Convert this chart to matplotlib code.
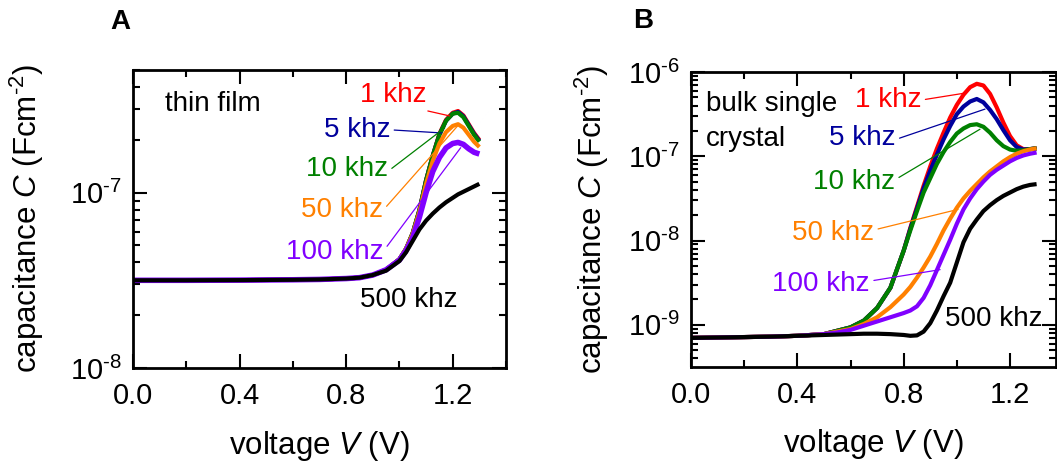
import numpy as np
import matplotlib
matplotlib.use("Agg")
import matplotlib.pyplot as plt
from matplotlib.ticker import LogLocator, MultipleLocator, NullFormatter, FuncFormatter

plt.rcParams['font.family'] = ['Liberation Sans', 'DejaVu Sans']
plt.rcParams['mathtext.fontset'] = 'custom'
plt.rcParams['mathtext.rm'] = 'Liberation Sans'
plt.rcParams['mathtext.it'] = 'Liberation Sans:italic'
plt.rcParams['axes.unicode_minus'] = False

# ---------------- data (log10 of capacitance, F cm^-2) ----------------
freq_labels = ['1 khz', '5 khz', '10 khz', '50 khz', '100 khz', '500 khz']
colors = ['#ff0000', '#00009c', '#008000', '#ff8000', '#8000ff', '#000000']

# Panel A: thin film
V_A = [0.0, 0.2, 0.4, 0.6, 0.7, 0.8, 0.85, 0.9, 0.95, 1.0, 1.025, 1.05, 1.075,
       1.1, 1.125, 1.15, 1.175, 1.2, 1.22, 1.24, 1.26, 1.28, 1.3]
logC_A_1k = [-7.50, -7.50, -7.499, -7.497, -7.495, -7.49, -7.485, -7.47, -7.44, -7.38, -7.32,
             -7.23, -7.10, -6.93, -6.79, -6.665, -6.585, -6.545, -6.535, -6.56, -6.61, -6.66, -6.70]
logC_A_5k = [-7.50, -7.50, -7.499, -7.497, -7.495, -7.49, -7.485, -7.47, -7.44, -7.38, -7.32,
             -7.23, -7.10, -6.93, -6.79, -6.67, -6.59, -6.55, -6.54, -6.565, -6.615, -6.665, -6.705]
logC_A_10k = [-7.50, -7.50, -7.499, -7.497, -7.495, -7.49, -7.485, -7.47, -7.44, -7.38, -7.32,
              -7.23, -7.10, -6.93, -6.79, -6.67, -6.59, -6.55, -6.545, -6.57, -6.62, -6.67, -6.71]
logC_A_50k = [-7.50, -7.50, -7.499, -7.497, -7.495, -7.49, -7.485, -7.47, -7.44, -7.38, -7.32,
              -7.235, -7.11, -6.95, -6.82, -6.72, -6.655, -6.62, -6.61, -6.63, -6.67, -6.71, -6.74]
logC_A_100k = [-7.50, -7.50, -7.499, -7.497, -7.495, -7.49, -7.485, -7.47, -7.44, -7.385, -7.33,
               -7.255, -7.14, -7.00, -6.88, -6.80, -6.745, -6.72, -6.714, -6.725, -6.75, -6.77, -6.78]
logC_A_500k = [-7.50, -7.50, -7.499, -7.497, -7.495, -7.49, -7.485, -7.47, -7.445, -7.39, -7.34,
               -7.275, -7.21, -7.16, -7.12, -7.085, -7.055, -7.03, -7.01, -6.995, -6.98, -6.965, -6.95]

# Panel B: bulk single crystal
V_B = [0.0, 0.1, 0.2, 0.3, 0.4, 0.5, 0.55, 0.6, 0.65, 0.7, 0.75, 0.8, 0.825, 0.85, 0.875,
       0.9, 0.925, 0.95, 0.975, 1.0, 1.025, 1.05, 1.075, 1.1, 1.125, 1.15, 1.175, 1.2,
       1.225, 1.25, 1.275, 1.3]
logC_B_1k = [-9.155, -9.15, -9.145, -9.14, -9.13, -9.11, -9.07, -9.03, -8.95, -8.80, -8.56,
             -8.12, -7.85, -7.60, -7.35, -7.12, -6.91, -6.72, -6.54, -6.39, -6.27, -6.18,
             -6.14, -6.16, -6.26, -6.42, -6.60, -6.76, -6.87, -6.915, -6.915, -6.905]
logC_B_5k = [-9.155, -9.15, -9.145, -9.14, -9.13, -9.11, -9.07, -9.03, -8.95, -8.80, -8.56,
             -8.12, -7.86, -7.62, -7.38, -7.17, -6.98, -6.80, -6.64, -6.50, -6.41, -6.35,
             -6.32, -6.36, -6.45, -6.56, -6.69, -6.81, -6.89, -6.92, -6.915, -6.905]
logC_B_10k = [-9.155, -9.15, -9.145, -9.14, -9.13, -9.11, -9.07, -9.03, -8.95, -8.80, -8.56,
              -8.12, -7.88, -7.65, -7.43, -7.26, -7.09, -6.95, -6.83, -6.73, -6.67, -6.63,
              -6.62, -6.65, -6.72, -6.81, -6.88, -6.92, -6.935, -6.93, -6.915, -6.905]
logC_B_50k = [-9.155, -9.15, -9.145, -9.14, -9.13, -9.11, -9.08, -9.05, -8.99, -8.91, -8.79,
              -8.64, -8.55, -8.44, -8.32, -8.19, -8.04, -7.88, -7.74, -7.61, -7.50, -7.41,
              -7.33, -7.25, -7.18, -7.12, -7.06, -7.01, -6.97, -6.94, -6.92, -6.905]
logC_B_100k = [-9.155, -9.15, -9.145, -9.14, -9.13, -9.11, -9.09, -9.06, -9.01, -8.96, -8.91,
               -8.86, -8.83, -8.78, -8.68, -8.53, -8.35, -8.17, -7.99, -7.80, -7.63, -7.50,
               -7.39, -7.30, -7.22, -7.16, -7.11, -7.06, -7.02, -6.99, -6.97, -6.955]
logC_B_500k = [-9.155, -9.15, -9.145, -9.14, -9.13, -9.12, -9.115, -9.11, -9.105, -9.105, -9.11,
               -9.12, -9.13, -9.125, -9.08, -8.98, -8.83, -8.66, -8.50, -8.26, -8.02, -7.86,
               -7.75, -7.65, -7.58, -7.52, -7.47, -7.43, -7.39, -7.36, -7.34, -7.33]

series_A = [logC_A_1k, logC_A_5k, logC_A_10k, logC_A_50k, logC_A_100k, logC_A_500k]
series_B = [logC_B_1k, logC_B_5k, logC_B_10k, logC_B_50k, logC_B_100k, logC_B_500k]

# ---------------- figure ----------------
fig = plt.figure(figsize=(10.57, 4.71), dpi=100)
axA = fig.add_axes([133/1057, 1-368/471, 373/1057, 298/471])
axB = fig.add_axes([691/1057, 1-367/471, 365/1057, 295/471])

TICK_FS = 21
LABEL_FS = 22.5
ANN_FS = 20

def log_fmt(y, pos):
    e = int(round(np.log10(y)))
    return r'$\mathregular{10^{\text{%d}}}$' % e

def style(ax, xmax, ylim):
    ax.set_yscale('log')
    ax.set_xlim(0, xmax)
    ax.set_ylim(*ylim)
    ax.xaxis.set_major_locator(MultipleLocator(0.4))
    ax.xaxis.set_minor_locator(MultipleLocator(0.2))
    ax.yaxis.set_major_locator(LogLocator(base=10, numticks=20))
    ax.yaxis.set_minor_locator(LogLocator(base=10, subs=np.arange(2, 10), numticks=20))
    ax.yaxis.set_major_formatter(FuncFormatter(log_fmt))
    ax.yaxis.set_minor_formatter(NullFormatter())
    ax.set_xticks([0.0, 0.4, 0.8, 1.2])
    ax.set_xticklabels(['0.0', '0.4', '0.8', '1.2'])
    ax.tick_params(which='both', direction='in', top=True, right=True, width=1.5)
    ax.tick_params(which='major', length=10)
    ax.tick_params(which='minor', length=5)
    ax.tick_params(axis='x', labelsize=TICK_FS, pad=10)
    ax.tick_params(axis='y', labelsize=TICK_FS, pad=8)
    for s in ax.spines.values():
        s.set_linewidth(2.0)
    ax.set_xlabel('voltage $V$ (V)', fontsize=LABEL_FS)
    ax.set_ylabel(r'capacitance $C$ (Fcm$^{\text{-2}}$)', fontsize=LABEL_FS)

style(axA, 1.4, (1e-8, 5e-7))
style(axB, 1.373, (10**-9.5, 1e-6))

lw_A = [3.0, 3.0, 3.0, 3.0, 4.0, 3.0]
for vals, c, lw in zip(series_A, colors, lw_A):
    axA.plot(V_A, 10**np.array(vals), color=c, lw=lw, solid_capstyle='butt')
for vals, c in zip(series_B, colors):
    axB.plot(V_B, 10**np.array(vals), color=c, lw=3.0, solid_capstyle='butt')

def ann(ax, text, xy, xytext, color, relpos=(1.0, 0.5), ha='center'):
    ax.annotate(text, xy=xy, xytext=xytext, color=color, fontsize=ANN_FS,
                ha=ha, va='center',
                arrowprops=dict(arrowstyle='-', color=color, lw=0.9,
                                shrinkA=1, shrinkB=0, relpos=relpos))

# Panel A annotations
axA.text(0.12, 10**-6.494, 'thin film', fontsize=ANN_FS, ha='left', va='center')
ann(axA, freq_labels[0], (1.189, 10**-6.563), (0.975, 10**-6.443), colors[0], relpos=(0.65, 0.1))
ann(axA, freq_labels[1], (1.159, 10**-6.66), (0.84, 10**-6.642), colors[1], relpos=(1.0, 0.5))
ann(axA, freq_labels[2], (1.17, 10**-6.631), (0.803, 10**-6.864), colors[2], relpos=(1.0, 0.4))
ann(axA, freq_labels[3], (1.219, 10**-6.619), (0.784, 10**-7.102), colors[3], relpos=(1.0, 0.5))
ann(axA, freq_labels[4], (1.23, 10**-6.744), (0.757, 10**-7.341), colors[4], relpos=(1.0, 0.55))
axA.text(1.035, 10**-7.614, freq_labels[5], fontsize=ANN_FS, ha='center', va='center')

# Panel B annotations
axB.text(0.056, 10**-6.381, 'bulk single', fontsize=ANN_FS, ha='left', va='center')
axB.text(0.056, 10**-6.798, 'crystal', fontsize=ANN_FS, ha='left', va='center')
ann(axB, freq_labels[0], (1.031, 10**-6.25), (0.741, 10**-6.333), colors[0], relpos=(1.0, 0.5))
ann(axB, freq_labels[1], (1.106, 10**-6.44), (0.644, 10**-6.786), colors[1], relpos=(1.0, 0.45))
ann(axB, freq_labels[2], (1.087, 10**-6.679), (0.613, 10**-7.31), colors[2], relpos=(1.0, 0.6))
ann(axB, freq_labels[3], (1.0045, 10**-7.63), (0.534, 10**-7.905), colors[3], relpos=(1.0, 0.6))
ann(axB, freq_labels[4], (0.937, 10**-8.345), (0.489, 10**-8.512), colors[4], relpos=(1.0, 0.6))
axB.text(0.956, 10**-8.929, freq_labels[5], fontsize=ANN_FS, ha='left', va='center')

axA.yaxis.set_label_coords(-0.232, 0.5)
axB.yaxis.set_label_coords(-0.218, 0.5)
axA.xaxis.set_label_coords(0.5, -0.205)
axB.xaxis.set_label_coords(0.5, -0.205)

fig.text(120/1057, 1-22/471, 'A', fontsize=20, fontweight='bold', ha='center', va='center')
fig.text(643/1057, 1-21/471, 'B', fontsize=20, fontweight='bold', ha='center', va='center')

fig.savefig('out.png', dpi=100)
